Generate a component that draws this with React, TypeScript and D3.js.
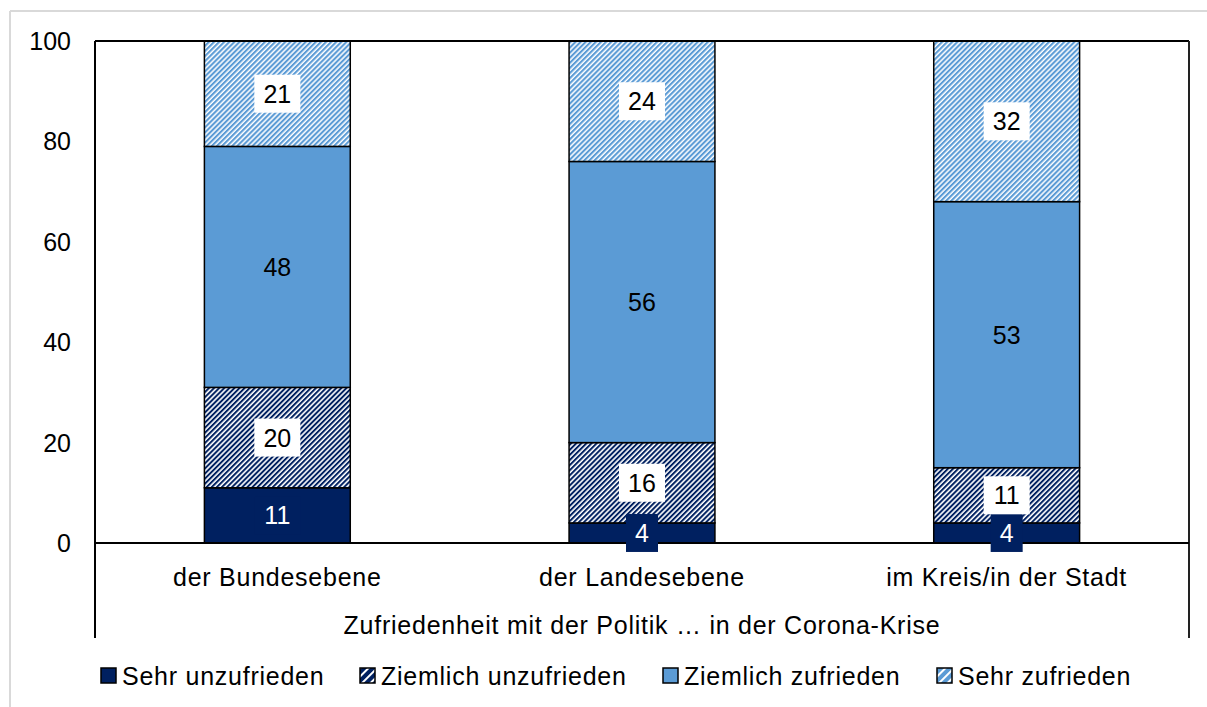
import React from "react";
import * as d3 from "d3";

const categories = ["der Bundesebene", "der Landesebene", "im Kreis/in der Stadt"];
const seriesNames = ["Sehr unzufrieden", "Ziemlich unzufrieden", "Ziemlich zufrieden", "Sehr zufrieden"];
const sehrUnzufrieden = [11, 4, 4];
const ziemlichUnzufrieden = [20, 16, 11];
const ziemlichZufrieden = [48, 56, 53];
const sehrZufrieden = [21, 24, 32];
const yTicks = [0, 20, 40, 60, 80, 100];
const axisTitle = "Zufriedenheit mit der Politik … in der Corona-Krise";

const NAVY = "#002060";
const BLUE = "#5B9BD5";
const FONT = "'Liberation Sans', Arial, Helvetica, sans-serif";
const FS = 25;
const LS = 0.75;

const seriesStyle = [
  { fill: NAVY, box: NAVY, text: "#ffffff", swatch: NAVY },
  { fill: "url(#hatchDark)", box: "#ffffff", text: "#000000", swatch: "url(#hatchDarkS)" },
  { fill: BLUE, box: null, text: "#000000", swatch: BLUE },
  { fill: "url(#hatchLight)", box: "#ffffff", text: "#000000", swatch: "url(#hatchLightS)" },
];

export default function App() {
  const W = 1207, H = 707;
  const left = 95, right = 1189, top = 41, zero = 543, bottomLine = 638;
  const x = d3.scaleBand<string>().domain(categories).range([left, right]).paddingInner(0.6).paddingOuter(0.3);
  const y = d3.scaleLinear().domain([0, 100]).range([zero, top]);
  const seriesData = [sehrUnzufrieden, ziemlichUnzufrieden, ziemlichZufrieden, sehrZufrieden];
  const table = categories.map((c, i) => {
    const o: any = { cat: c };
    seriesNames.forEach((s, j) => (o[s] = seriesData[j][i]));
    return o;
  });
  const stacked = d3.stack<any>().keys(seriesNames)(table);

  const legendX = [101, 360, 663, 937];
  const legendY = 676;

  return (
    <svg width={W} height={H} style={{ position: "absolute", left: 0, top: 0, background: "#fff" }} fontFamily={FONT}>
      <defs>
        <pattern id="hatchDark" patternUnits="userSpaceOnUse" width={3.6} height={3.6} patternTransform="rotate(45)">
          <rect width={3.6} height={3.6} fill="#fff" />
          <rect width={2.0} height={3.6} fill={NAVY} />
        </pattern>
        <pattern id="hatchLight" patternUnits="userSpaceOnUse" width={3.6} height={3.6} patternTransform="rotate(45)">
          <rect width={3.6} height={3.6} fill="#fff" />
          <rect width={2.1} height={3.6} fill={BLUE} />
        </pattern>
        <pattern id="hatchDarkS" patternUnits="userSpaceOnUse" width={6} height={6} patternTransform="rotate(45)">
          <rect width={6} height={6} fill={NAVY} />
          <rect width={2} height={6} fill="#fff" />
        </pattern>
        <pattern id="hatchLightS" patternUnits="userSpaceOnUse" width={6} height={6} patternTransform="rotate(45)">
          <rect width={6} height={6} fill={BLUE} />
          <rect width={2} height={6} fill="#fff" />
        </pattern>
      </defs>

      <line x1={10} x2={W} y1={11} y2={11} stroke="#d9d9d9" strokeWidth={2} />
      <line x1={10} x2={10} y1={11} y2={H} stroke="#d9d9d9" strokeWidth={2} />

      {stacked.map((layer, j) => (
        <g key={seriesNames[j]}>
          {layer.map((d, i) => (
            <rect
              key={i}
              x={x(categories[i])}
              width={x.bandwidth()}
              y={y(d[1])}
              height={y(d[0]) - y(d[1])}
              fill={seriesStyle[j].fill}
              stroke="#000"
              strokeWidth={1.5}
            />
          ))}
        </g>
      ))}

      <line x1={left} x2={right} y1={top} y2={top} stroke="#000" strokeWidth={2} />
      <line x1={right} x2={right} y1={top} y2={bottomLine} stroke="#222" strokeWidth={2} />
      <line x1={left} x2={left} y1={top} y2={bottomLine} stroke="#000" strokeWidth={2} />
      <line x1={left} x2={right} y1={zero} y2={zero} stroke="#000" strokeWidth={2} />

      {stacked.map((layer, j) =>
        layer.map((d, i) => {
          const v = d[1] - d[0];
          const cx = (x(categories[i]) as number) + x.bandwidth() / 2;
          const cy = (y(d[0]) + y(d[1])) / 2;
          const txt = String(v);
          const bw = txt.length * 14 + 18;
          const bh = 38;
          const st = seriesStyle[j];
          return (
            <g key={`${j}-${i}`}>
              {st.box && <rect x={cx - bw / 2} y={cy - bh / 2} width={bw} height={bh} fill={st.box} />}
              <text x={cx} y={cy} dy="0.36em" textAnchor="middle" fontSize={FS} fill={st.text}>
                {txt}
              </text>
            </g>
          );
        })
      )}

      {yTicks.map((t) => (
        <text key={t} x={71} y={y(t)} dy="0.36em" textAnchor="end" fontSize={FS} fill="#000">
          {t}
        </text>
      ))}

      {categories.map((c) => (
        <text key={c} x={(x(c) as number) + x.bandwidth() / 2} y={577} dy="0.36em" textAnchor="middle" fontSize={FS} letterSpacing={LS} fill="#000">
          {c}
        </text>
      ))}
      <text x={(left + right) / 2} y={625} dy="0.36em" textAnchor="middle" fontSize={FS} letterSpacing={LS} fill="#000">
        {axisTitle}
      </text>

      {seriesNames.map((s, j) => (
        <g key={s}>
          <rect x={legendX[j]} y={legendY - 8} width={15} height={15} fill={seriesStyle[j].swatch} stroke="#000" strokeWidth={1.5} />
          <text x={legendX[j] + 21} y={legendY} dy="0.36em" fontSize={FS} letterSpacing={LS} fill="#000">
            {s}
          </text>
        </g>
      ))}
    </svg>
  );
}
